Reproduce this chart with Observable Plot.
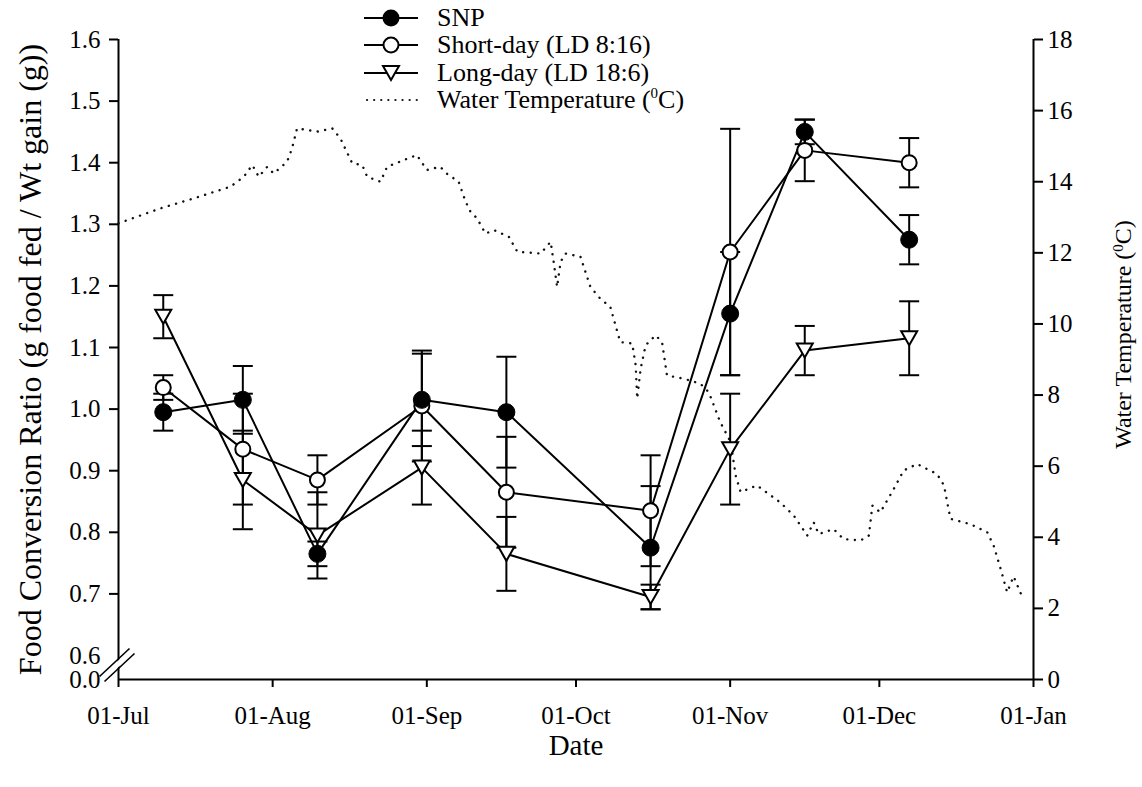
<!DOCTYPE html>
<html>
<head>
<meta charset="utf-8">
<script src="https://cdn.jsdelivr.net/npm/d3@7"></script>
<script src="https://cdn.jsdelivr.net/npm/@observablehq/plot@0.6"></script>
<style>
  body { margin: 0; background: #fff; }
  #chart { position: relative; width: 1142px; height: 787px; font-family: "Liberation Serif", "Times New Roman", serif; color: #000; }
  #legend { position: absolute; left: 364px; top: 4px; font-size: 26px; }
  #legend .row { display: flex; align-items: center; height: 27.5px; }
  #legend svg { margin-right: 19px; overflow: visible; }
  #legend sup { font-size: 15px; }
</style>
</head>
<body>
<div id="chart"><div id="legend"></div></div>
<script>
// Sampling dates for the three feeding groups
const sampleDates = ["1998-07-10", "1998-07-26", "1998-08-10", "1998-08-31", "1998-09-17",
                     "1998-10-16", "1998-11-01", "1998-11-16", "1998-12-07"];

// Food conversion ratio (mean) and standard error per group
const snpFCR   = [0.995, 1.015, 0.765, 1.015, 0.995, 0.775, 1.155, 1.450, 1.275];
const snpSE    = [0.030, 0.055, 0.020, 0.075, 0.090, 0.100, 0.100, 0.020, 0.040];
const shortFCR = [1.035, 0.935, 0.885, 1.005, 0.865, 0.835, 1.255, 1.420, 1.400];
const shortSE  = [0.020, 0.090, 0.040, 0.090, 0.090, 0.090, 0.200, 0.050, 0.040];
const longFCR  = [1.150, 0.885, 0.795, 0.905, 0.765, 0.695, 0.935, 1.095, 1.115];
const longSE   = [0.035, 0.080, 0.070, 0.060, 0.060, 0.020, 0.090, 0.040, 0.060];

// Water temperature record: days after 1 July and temperature (deg C)
const tempDay = [0, 8.4, 15.1, 22.5, 25.2, 26.9, 28.2, 29.9, 31.2, 33.9, 34.9, 35.9, 40, 43, 44.6,
  47, 49, 50, 52.7, 54, 57.4, 60, 62, 64.7, 66, 68.4, 69.8, 70.8, 72.1, 73.8, 75.5, 78.5, 80.2,
  84.9, 86.9, 87.5, 88.2, 88.9, 89.9, 92.9, 94.9, 96.9, 98.9, 100.9, 103.3, 104, 104.3, 105, 106,
  108, 109.3, 110.3, 113.7, 117, 118.7, 121, 123.1, 124.1, 125.1, 128.4, 133, 135.8, 138.5, 139.8,
  140.8, 143.8, 145.8, 149.2, 150.9, 151.6, 153.2, 155.9, 157.9, 160.6, 164.6, 166, 167.3, 171.3,
  174.7, 176, 177.4, 178.7, 180, 181.5];
const tempC = [12.83, 13.25, 13.53, 13.86, 14.14, 14.47, 14.14, 14.42, 14.23, 14.56, 14.94, 15.5, 15.41, 15.5, 15.22,
  14.52, 14.47, 14.14, 14.0, 14.42, 14.61, 14.75, 14.33, 14.42, 14.23, 14.0, 13.44, 13.15, 12.97, 12.54, 12.64, 12.45, 12.03,
  11.98, 12.31, 11.75, 11.04, 11.75, 11.98, 11.89, 11.04, 10.71, 10.48, 9.49, 9.45, 8.84, 7.9, 8.74, 9.4,
  9.68, 9.49, 8.55, 8.46, 8.32, 8.08, 7.24, 6.68, 5.74, 5.27, 5.46, 4.99, 4.61, 4.05, 4.42,
  4.09, 4.23, 3.95, 3.91, 4.05, 4.89, 4.7, 5.36, 5.88, 6.06, 5.78, 5.46, 4.52, 4.37,
  4.14, 3.76, 3.11, 2.45, 2.9, 2.4];

// Axis ticks
const fcrTicks = [0.7, 0.8, 0.9, 1.0, 1.1, 1.2, 1.3, 1.4, 1.5, 1.6];
const fcrBrokenLabels = [0.0, 0.6];
const tempTicks = [0, 2, 4, 6, 8, 10, 12, 14, 16, 18];
const monthTicks = ["1998-07-01", "1998-08-01", "1998-09-01", "1998-10-01", "1998-11-01", "1998-12-01", "1999-01-01"];

const legendItems = [
  {label: "SNP", kind: "filled"},
  {label: "Short-day (LD 8:16)", kind: "open"},
  {label: "Long-day (LD 18:6)", kind: "tri"},
  {label: "Water Temperature (<sup>0</sup>C)", kind: "dotted"}
];

// ---- build tables ----
const parse = d3.utcParse("%Y-%m-%d");
const start = parse("1998-07-01");
const end = parse("1999-01-01");

const width = 1142, height = 787;
const marginTop = 39, marginBottom = 108;
const breakGap = 24; // pixels between FCR 0.0 and 0.6 on the broken axis

// The y scale is in temperature units (0-18); the FCR axis (broken between 0.0 and 0.6)
// is mapped onto the same frame.
const plotH = height - marginTop - marginBottom;
const tempBreak = 18 * breakGap / plotH;
const fcrToY = d3.scaleLinear().domain([0, 0.6, 1.6]).range([0, tempBreak, 18]);

function group(name, fcr, se) {
  return sampleDates.map((d, i) => ({group: name, date: parse(d), fcr: fcr[i], lo: fcr[i] - se[i], hi: fcr[i] + se[i]}));
}
const snp = group("SNP", snpFCR, snpSE);
const shortDay = group("Short", shortFCR, shortSE);
const longDay = group("Long", longFCR, longSE);
const allGroups = [...snp, ...shortDay, ...longDay];

const temps = tempDay.map((d, i) => ({date: new Date(+start + d * 864e5), t: tempC[i]}));

// Symbols: error-bar cap and downward triangle
const cap = {draw(ctx) { ctx.moveTo(-10, 0); ctx.lineTo(10, 0); }};
const triDown = {draw(ctx) { ctx.moveTo(-8, -7); ctx.lineTo(8, -7); ctx.lineTo(0, 7); ctx.closePath(); }};

const Y = d => fcrToY(d.fcr);
const lineStyle = {x: "date", y: Y, stroke: "black", strokeWidth: 2};

const plot = Plot.plot({
  width,
  height,
  marginLeft: 118,
  marginRight: 109,
  marginTop,
  marginBottom,
  style: {fontFamily: "'Liberation Serif', 'Times New Roman', serif", fontSize: "25px", color: "black", background: "white", overflow: "visible"},
  x: {type: "utc", domain: [start, end], label: null},
  y: {domain: [0, 18], label: null},
  marks: [
    // frame lines
    Plot.ruleX([start], {y1: 0, y2: 18, stroke: "black", strokeWidth: 2}),
    Plot.ruleX([end], {y1: 0, y2: 18, stroke: "black", strokeWidth: 2}),
    Plot.ruleY([0], {x1: start, x2: end, stroke: "black", strokeWidth: 2}),

    // axes
    Plot.axisX({ticks: monthTicks.map(parse), tickFormat: d3.utcFormat("%d-%b"), tickSize: 8, tickPadding: 19, strokeWidth: 2, label: null}),
    Plot.axisY({anchor: "left", ticks: fcrTicks.map(v => fcrToY(v)), tickFormat: (d, i) => d3.format(".1f")(fcrTicks[i]), tickSize: 9, tickPadding: 9, strokeWidth: 2, label: null}),
    Plot.axisY({anchor: "left", ticks: fcrBrokenLabels.map(v => fcrToY(v)), tickFormat: (d, i) => d3.format(".1f")(fcrBrokenLabels[i]), tickSize: 0, tickPadding: 18, label: null}),
    Plot.axisY({anchor: "right", ticks: tempTicks, tickFormat: d => d, tickSize: 9, tickPadding: 5, strokeWidth: 2, label: null}),

    // axis titles
    Plot.text(["Date"], {frameAnchor: "bottom", dy: 75, fontSize: 29}),
    Plot.text(["Food Conversion Ratio (g food fed / Wt gain (g))"], {frameAnchor: "left", textAnchor: "middle", dx: -88, rotate: -90, fontSize: 32}),
    Plot.text(["Water Temperature (0C)"], {frameAnchor: "right", textAnchor: "middle", dx: 90, dy: -25, rotate: -90, fontSize: 24}),

    // water temperature (right axis)
    Plot.line(temps, {x: "date", y: "t", stroke: "#111", strokeWidth: 2.4, strokeLinecap: "round", strokeDasharray: "0.1 7.5"}),

    // group lines
    Plot.line(snp, lineStyle),
    Plot.line(shortDay, lineStyle),
    Plot.line(longDay, lineStyle),

    // error bars
    Plot.ruleX(allGroups, {x: "date", y1: d => fcrToY(d.lo), y2: d => fcrToY(d.hi), stroke: "black", strokeWidth: 2}),
    Plot.dot(allGroups, {x: "date", y: d => fcrToY(d.lo), symbol: cap, fill: "none", stroke: "black", strokeWidth: 2}),
    Plot.dot(allGroups, {x: "date", y: d => fcrToY(d.hi), symbol: cap, fill: "none", stroke: "black", strokeWidth: 2}),

    // markers
    Plot.dot(longDay, {x: "date", y: Y, symbol: triDown, fill: "white", stroke: "black", strokeWidth: 2}),
    Plot.dot(shortDay, {x: "date", y: Y, r: 7.5, fill: "white", stroke: "black", strokeWidth: 2}),
    Plot.dot(snp, {x: "date", y: Y, r: 8.5, fill: "black", stroke: "black", strokeWidth: 1})
  ]
});

// superscript in the right-hand title
d3.select(plot).selectAll("text").filter(function() { return this.textContent === "Water Temperature (0C)"; })
  .html('Water Temperature (<tspan baseline-shift="super" font-size="15">0</tspan>C)');

// axis break mark on the FCR axis
{
  const x = plot.scale("x"), y = plot.scale("y");
  const cx = x.apply(start), cy = y.apply(fcrToY(0.3));
  const g = d3.select(plot).append("g").attr("fill", "none");
  g.append("path").attr("d", `M${cx - 16},${cy + 12}L${cx + 14},${cy - 16}`).attr("stroke", "white").attr("stroke-width", 5);
  for (const off of [-2.5, 2.5]) {
    g.append("line").attr("x1", cx - 16 + off).attr("y1", cy + 12 + off).attr("x2", cx + 14 + off).attr("y2", cy - 16 + off)
      .attr("stroke", "black").attr("stroke-width", 1.6);
  }
}

document.getElementById("chart").prepend(plot);
plot.style.position = "absolute";
plot.style.left = "0";
plot.style.top = "0";

// legend
const legend = d3.select("#legend");
for (const item of legendItems) {
  const row = legend.append("div").attr("class", "row");
  const svg = row.append("svg").attr("width", 54).attr("height", 20);
  if (item.kind === "dotted") {
    svg.append("line").attr("x1", 3).attr("x2", 54).attr("y1", 10).attr("y2", 10)
      .attr("stroke", "#111").attr("stroke-width", 2.2).attr("stroke-linecap", "round").attr("stroke-dasharray", "0.1 7");
  } else {
    svg.append("line").attr("x1", 0).attr("x2", 54).attr("y1", 10).attr("y2", 10).attr("stroke", "black").attr("stroke-width", 2);
    if (item.kind === "filled") svg.append("circle").attr("cx", 27).attr("cy", 10).attr("r", 8.5).attr("fill", "black");
    if (item.kind === "open") svg.append("circle").attr("cx", 27).attr("cy", 10).attr("r", 7.5).attr("fill", "white").attr("stroke", "black").attr("stroke-width", 2);
    if (item.kind === "tri") svg.append("path").attr("d", "M19,3L35,3L27,17Z").attr("fill", "white").attr("stroke", "black").attr("stroke-width", 2);
  }
  row.append("span").html(item.label);
}
</script>
</body>
</html>
